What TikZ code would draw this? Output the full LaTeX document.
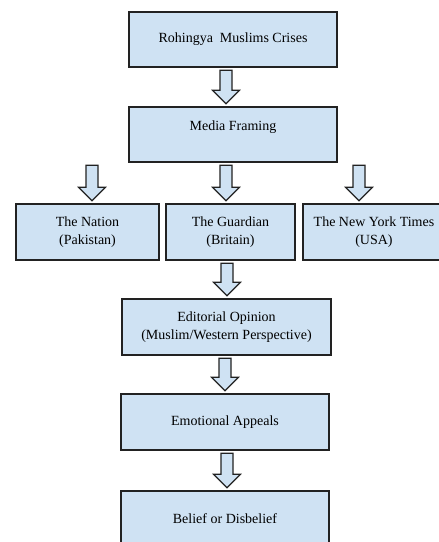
\documentclass[tikz,border=0pt]{standalone}
\usepackage{fontspec}
\setmainfont{Liberation Serif}
\usepackage{tikz}
\usetikzlibrary{calc}

\tikzset{
	box/.style={draw=boxline, fill=boxfill, line width=1.4pt, align=center, inner sep=0pt, font=\fontsize{14}{17.5}\selectfont},
	flowarr/.style={draw=boxline, fill=boxfill, line width=1.2pt, line join=miter}
}

\newcommand{\flowarrow}[3]{%
	\draw[flowarr] let \p1=(#2.south), \p2=(#3.north) in
		(#1pt-6pt,\y1-2.5pt) -- (#1pt+6pt,\y1-2.5pt) -- (#1pt+6pt,\y2+16pt) -- (#1pt+13.5pt,\y2+16pt)
		-- (#1pt,\y2+2.5pt) -- (#1pt-13.5pt,\y2+16pt) -- (#1pt-6pt,\y2+16pt) -- cycle;
}

\begin{document}
\begin{tikzpicture}[x=1pt,y=-1pt]
	\definecolor{boxfill}{RGB}{207,226,243}
	\definecolor{boxline}{RGB}{34,34,34}

	\useasboundingbox (0,0) rectangle (439,542);

	\node[box, minimum width=208pt, minimum height=55pt] (crises) at (233,39.5) {Rohingya\ \ Muslims Crises};
	\node[box, minimum width=208pt, minimum height=55pt, text height=10pt, text depth=18pt] (framing) at (233,134.5) {Media Framing};

	\node[box, minimum width=143pt, minimum height=56pt] (nation) at (87.5,232) {The Nation\\(Pakistan)};
	\node[box, minimum width=129pt, minimum height=56pt] (guardian) at (230.5,232) {The Guardian\\(Britain)};
	\node[box, minimum width=142pt, minimum height=56pt] (nytimes) at (374,232) {The New York Times\\(USA)};

	\node[box, minimum width=209pt, minimum height=56pt] (editorial) at (226.5,327) {Editorial Opinion\\(Muslim/Western Perspective)};
	\node[box, minimum width=208pt, minimum height=56pt] (appeals) at (225,422) {Emotional Appeals};
	\node[box, minimum width=208pt, minimum height=56pt] (belief) at (225,519) {Belief or Disbelief};

	\flowarrow{226}{crises}{framing}
	\flowarrow{92}{framing}{nation}
	\flowarrow{226}{framing}{guardian}
	\flowarrow{359}{framing}{nytimes}
	\flowarrow{227}{guardian}{editorial}
	\flowarrow{225}{editorial}{appeals}
	\flowarrow{227}{appeals}{belief}
\end{tikzpicture}
\end{document}
